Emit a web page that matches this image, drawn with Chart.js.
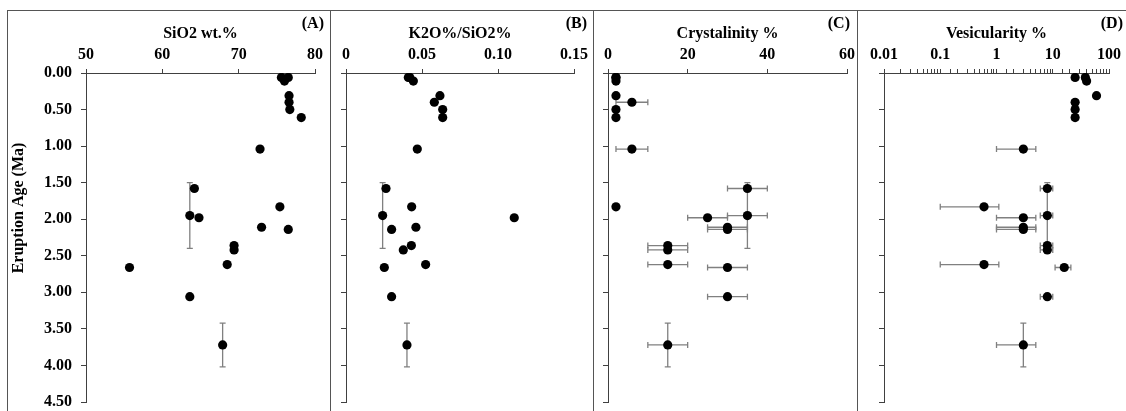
<!DOCTYPE html>
<html>
<head>
<meta charset="utf-8">
<script src="https://cdn.jsdelivr.net/npm/chart.js@4.4.1/dist/chart.umd.min.js"></script>
<style>
  html, body { margin: 0; padding: 0; background: #fff; }
  body { width: 1126px; height: 411px; overflow: hidden; position: relative; }
  .panel { position: absolute; top: 10px; height: 420px; border: 1.5px solid #555; border-bottom: none; box-sizing: border-box; }
  canvas { position: absolute; top: 11px; }
</style>
</head>
<body>
<div class="panel" style="left:7px; width:324px;"></div>
<div class="panel" style="left:330px; width:264px;"></div>
<div class="panel" style="left:593px; width:265px;"></div>
<div class="panel" style="left:857px; width:300px;"></div>
<canvas id="chartA" width="321" height="400" style="left:8px;"></canvas>
<canvas id="chartB" width="262" height="400" style="left:331px;"></canvas>
<canvas id="chartC" width="263" height="400" style="left:594px;"></canvas>
<canvas id="chartD" width="268" height="400" style="left:858px;"></canvas>
<script>
// eruption age of each sample (Ma) and its uncertainty
const ages   = [0.06, 0.11, 0.06, 0.31, 0.40, 0.50, 0.61, 1.04, 1.58, 1.83, 1.95, 1.98, 2.11, 2.14, 2.36, 2.42, 2.62, 2.66, 3.06, 3.72];
const ageErr = [0, 0, 0, 0, 0, 0, 0, 0, 0, 0, 0.45, 0, 0, 0, 0, 0, 0, 0, 0, 0.3];

const sio2     = [75.6, 76.0, 76.5, 76.6, 76.6, 76.7, 78.2, 72.8, 64.2, 75.4, 63.6, 64.8, 73.0, 76.5, 69.4, 69.4, 68.5, 55.7, 63.6, 67.9];
const k2oRatio = [0.041, 0.0443, 0.042, 0.0618, 0.0581, 0.0636, 0.0636, 0.0469, 0.0263, 0.0432, 0.0241, 0.1107, 0.046, 0.030, 0.043, 0.0377, 0.0524, 0.0252, 0.030, 0.0401];

const crystallinity = [2, 2, 2, 2, 6, 2, 2, 6, 35, 2, 35, 25, 30, 30, 15, 15, 15, 30, 30, 15];
const crystErr      = [0, 0, 0, 0, 4, 0, 0, 4, 5, 0, 5, 5, 5, 5, 5, 5, 5, 5, 5, 5];

const vesicularity = [25, 40, 38, 60, 25, 25, 25, 3, 8, 0.6, 8, 3, 3, 3, 8, 8, 0.6, 16, 8, 3];
const vesicErr     = [3, 5, 5, 0, 3, 3, 3, 2, 2, 0.5, 2, 2, 2, 2, 2, 2, 0.5, 5, 2, 2];

const ageTicks = [0, 4.5, 0.5]; // min, max, step

const serif = '"Liberation Serif", "Times New Roman", serif';
const axisColor = '#404040';
const tickFont = { family: serif, size: 16, weight: 'bold' };

// gray error bars with caps, drawn under the points
const errorBars = {
  id: 'errorBars',
  beforeDatasetsDraw(chart) {
    const { ctx } = chart;
    const xs = chart.scales.x, ys = chart.scales.y;
    const cap = 3;
    ctx.save();
    ctx.strokeStyle = '#808080';
    ctx.lineWidth = 1.3;
    chart.data.datasets.forEach(ds => {
      ds.data.forEach((p, i) => {
        const xe = ds.xErr ? ds.xErr[i] : 0;
        const ye = ds.yErr ? ds.yErr[i] : 0;
        const px = xs.getPixelForValue(p.x), py = ys.getPixelForValue(p.y);
        ctx.beginPath();
        if (xe) {
          const x1 = xs.getPixelForValue(p.x - xe), x2 = xs.getPixelForValue(p.x + xe);
          ctx.moveTo(x1, py); ctx.lineTo(x2, py);
          ctx.moveTo(x1, py - cap); ctx.lineTo(x1, py + cap);
          ctx.moveTo(x2, py - cap); ctx.lineTo(x2, py + cap);
        }
        if (ye) {
          const y1 = ys.getPixelForValue(p.y - ye), y2 = ys.getPixelForValue(p.y + ye);
          ctx.moveTo(px, y1); ctx.lineTo(px, y2);
          ctx.moveTo(px - cap, y1); ctx.lineTo(px + cap, y1);
          ctx.moveTo(px - cap, y2); ctx.lineTo(px + cap, y2);
        }
        ctx.stroke();
      });
    });
    ctx.restore();
  }
};

function panelText(letter, inset, yTitle) {
  return {
    id: 'panelText',
    afterDraw(chart) {
      const ctx = chart.ctx;
      ctx.save();
      ctx.fillStyle = '#000';
      ctx.font = 'bold 16px ' + serif;
      ctx.textAlign = 'right';
      ctx.textBaseline = 'middle';
      ctx.fillText(letter, chart.width - inset, 13);
      if (yTitle) {
        ctx.translate(11, 197);
        ctx.rotate(-Math.PI / 2);
        ctx.textAlign = 'center';
        ctx.fillText(yTitle, 0, 0);
      }
      ctx.restore();
    }
  };
}

function isDecade(v) {
  const l = Math.log10(v);
  return Math.abs(l - Math.round(l)) < 1e-6;
}

function makePanel(id, o) {
  const xScale = {
    type: o.log ? 'logarithmic' : 'linear',
    position: 'top',
    min: o.min,
    max: o.max,
    ticks: {
      autoSkip: false, maxRotation: 0, padding: 5, color: '#000', font: tickFont
    },
    grid: { drawOnChartArea: false, drawTicks: true, tickLength: 4, tickColor: axisColor },
    border: { color: axisColor, width: 1 },
    title: { display: true, text: o.title, color: '#000', font: tickFont, padding: { top: 13, bottom: 0 } },
    afterFit: s => { s.height = 62; s.paddingLeft = 0; s.paddingRight = 0; }
  };
  if (o.log) {
    xScale.ticks.callback = v => isDecade(v) ? String(Number(v.toPrecision(1))) : '';
  } else {
    xScale.ticks.stepSize = o.step;
  }

  new Chart(document.getElementById(id), {
    type: 'scatter',
    data: {
      datasets: [{
        data: o.values.map((v, i) => ({ x: v, y: ages[i] })),
        xErr: o.err,
        yErr: ageErr,
        backgroundColor: '#000',
        borderWidth: 0,
        pointRadius: 4.6,
        pointHoverRadius: 4.6
      }]
    },
    options: {
      responsive: false,
      animation: false,
      events: [],
      layout: { padding: { left: 0, right: o.padRight, top: 0, bottom: 9 } },
      plugins: { legend: { display: false }, tooltip: { enabled: false } },
      scales: {
        x: xScale,
        y: {
          type: 'linear',
          reverse: true,
          min: ageTicks[0],
          max: ageTicks[1],
          ticks: {
            stepSize: ageTicks[2], padding: 9, color: '#000', font: tickFont,
            callback: v => o.yLabels ? v.toFixed(2) : ''
          },
          grid: { drawOnChartArea: false, drawTicks: true, tickLength: 5, tickColor: axisColor },
          border: { color: axisColor, width: 1 },
          afterFit: s => { s.width = o.yWidth; s.paddingTop = 0; s.paddingBottom = 0; }
        }
      }
    },
    plugins: [errorBars, panelText(o.letter, o.inset, o.yTitle)]
  });
}

makePanel('chartA', { values: sio2, title: 'SiO2 wt.%', min: 50, max: 80, step: 10,
  yWidth: 78, padRight: 14, letter: '(A)', inset: 5, yLabels: true, yTitle: 'Eruption Age (Ma)' });
makePanel('chartB', { values: k2oRatio, title: 'K2O%/SiO2%', min: 0, max: 0.15, step: 0.05,
  yWidth: 15, padRight: 19, letter: '(B)', inset: 6 });
makePanel('chartC', { values: crystallinity, err: crystErr, title: 'Crystalinity %', min: 0, max: 60, step: 20,
  yWidth: 14, padRight: 10, letter: '(C)', inset: 7 });
makePanel('chartD', { values: vesicularity, err: vesicErr, title: 'Vesicularity %', min: 0.01, max: 100, log: true,
  yWidth: 26, padRight: 17, letter: '(D)', inset: 3 });
</script>
</body>
</html>
